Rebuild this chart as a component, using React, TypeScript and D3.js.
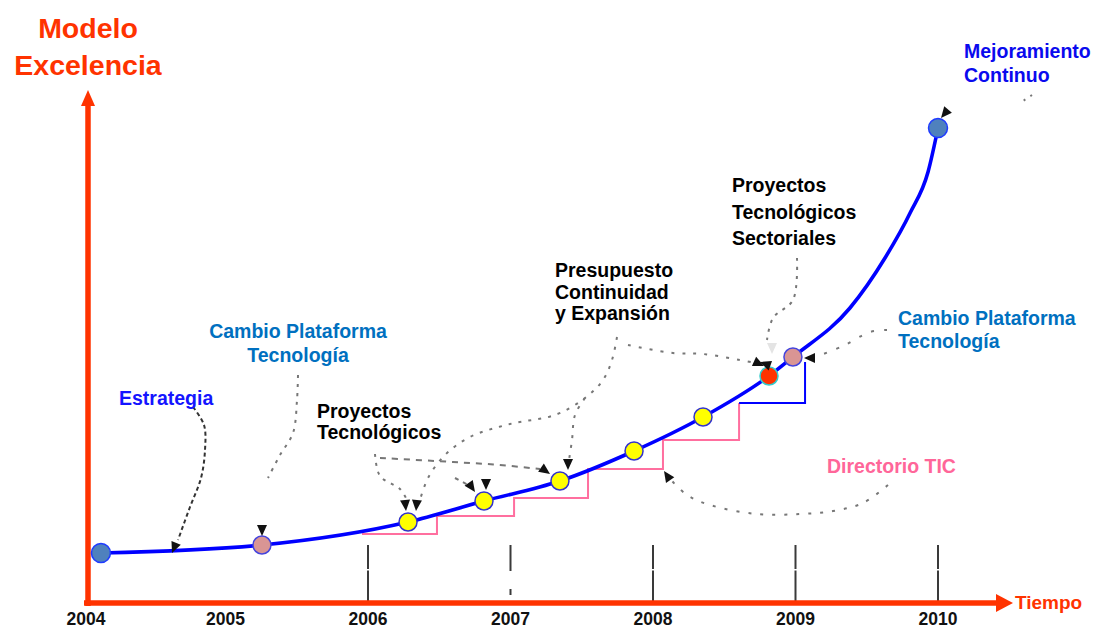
import * as d3 from "d3";

// años del eje de tiempo
const years = [2004, 2005, 2006, 2007, 2008, 2009, 2010];
const tickYears = [2006, 2007, 2008, 2009, 2010];

// trayectoria del modelo (año, nivel de excelencia)
const curveYears = [2004.126, 2005.256, 2006.281, 2006.814, 2007.347, 2007.867, 2008.351, 2008.814, 2008.982, 2009.382, 2009.628, 2009.804, 2009.93, 2010.0];
const curveLevels = [10.0, 11.6, 16.2, 20.4, 24.4, 30.4, 37.2, 45.4, 49.2, 59.0, 69.0, 78.0, 86.2, 95.0];

// hitos sobre la curva
const hitoYears = [2004.126, 2005.256, 2006.281, 2006.814, 2007.347, 2007.867, 2008.351, 2008.814, 2008.982, 2010.0];
const hitoLevels = [10.0, 11.6, 16.2, 20.4, 24.4, 30.4, 37.2, 45.4, 49.2, 95.0];
const hitoTypes = ["inicio", "cambio", "proyecto", "proyecto", "proyecto", "proyecto", "proyecto", "sector", "cambio", "inicio"];

// escalera del Directorio TIC
const stepYears = [2005.958, 2006.484, 2007.025, 2007.544, 2008.07, 2008.604];
const stepLevels = [13.8, 17.4, 21.0, 26.8, 32.6, 40.0];
const lastStepYears = [2008.604, 2009.067];
const lastStepLevels = [40.0, 48.2];

const fills: Record<string, string> = {
    inicio: "#4f81bd",
    cambio: "#d99594",
    proyecto: "#ffff00",
    sector: "#ff3300",
};
const strokes: Record<string, string> = {
    inicio: "#1f3bff",
    cambio: "#4444dd",
    proyecto: "#3333cc",
    sector: "#33cccc",
};

const FONT = "'Liberation Sans', Arial, Helvetica, sans-serif";
const RED = "#ff3300";

function arrowHead(tx: number, ty: number, angleDeg: number, len = 11, half = 5) {
    const a = (angleDeg * Math.PI) / 180;
    const bx = tx - len * Math.cos(a), by = ty - len * Math.sin(a);
    const px = -Math.sin(a) * half, py = Math.cos(a) * half;
    return `${tx},${ty} ${bx + px},${by + py} ${bx - px},${by - py}`;
}

// líneas guía de las anotaciones (px)
const guides: { pts: [number, number][]; color: string; dash: string; w: number }[] = [
    { pts: [[193, 407], [204, 425], [205, 450], [201, 478], [190, 507], [178, 540]], color: "#333", dash: "4 3", w: 2 },
    { pts: [[298, 375], [297, 400], [293, 433], [280, 455], [268, 478]], color: "#777", dash: "3 6", w: 2 },
    { pts: [[375, 454], [380, 476], [400, 489], [407, 500]], color: "#777", dash: "3 6", w: 2 },
    { pts: [[380, 458], [453, 462], [500, 465], [540, 469]], color: "#777", dash: "6 6", w: 2 },
    { pts: [[455, 478], [470, 486]], color: "#777", dash: "4 5", w: 2 },
    { pts: [[617, 337], [612, 360], [603, 380], [585, 398], [555, 415], [510, 424], [470, 437], [445, 455], [428, 478], [420, 500]], color: "#777", dash: "3 7", w: 2 },
    { pts: [[585, 398], [575, 415], [572, 440], [569, 460]], color: "#777", dash: "3 7", w: 2 },
    { pts: [[628, 345], [673, 353], [703, 354], [740, 360], [755, 363]], color: "#777", dash: "3 8", w: 2 },
    { pts: [[797, 258], [793, 300], [773, 318], [767, 340]], color: "#777", dash: "3 6", w: 2 },
    { pts: [[887, 330], [870, 332], [843, 346], [818, 356]], color: "#777", dash: "3 10", w: 2 },
    { pts: [[888, 485], [863, 503], [833, 511], [800, 514], [757, 514], [710, 505], [687, 495], [672, 481]], color: "#777", dash: "3 9", w: 2 },
    { pts: [[1032, 95], [1020, 103]], color: "#777", dash: "2 6", w: 2 },
];

const arrows: { x: number; y: number; a: number; c?: string }[] = [
    { x: 172, y: 553, a: 112 },
    { x: 262, y: 536, a: 90 },
    { x: 406, y: 511, a: 85 },
    { x: 416, y: 511, a: 95 },
    { x: 475, y: 492, a: 55 },
    { x: 486, y: 490, a: 90 },
    { x: 550, y: 474, a: 35 },
    { x: 568, y: 470, a: 90 },
    { x: 764, y: 366, a: 25 },
    { x: 760, y: 362, a: 200 },
    { x: 772, y: 354, a: 90, c: "#e4e4e4" },
    { x: 804, y: 358, a: 180 },
    { x: 664, y: 471, a: -124 },
    { x: 941, y: 118, a: 130 },
];

type Label = { lines: string[]; x: number; y: number; dy: number; color: string; anchor?: string };
const labels: Label[] = [
    { lines: ["Estrategia"], x: 119, y: 405, dy: 0, color: "#1414ff" },
    { lines: ["Cambio Plataforma", "Tecnología"], x: 298, y: 338, dy: 24, color: "#0070c0", anchor: "middle" },
    { lines: ["Proyectos", "Tecnológicos"], x: 317, y: 418, dy: 21, color: "#000" },
    { lines: ["Presupuesto", "Continuidad", "y Expansión"], x: 555, y: 277, dy: 21.5, color: "#000" },
    { lines: ["Proyectos", "Tecnológicos", "Sectoriales"], x: 732, y: 192, dy: 26.5, color: "#000" },
    { lines: ["Cambio Plataforma", "Tecnología"], x: 898, y: 325, dy: 23, color: "#0070c0" },
    { lines: ["Directorio TIC"], x: 827, y: 473, dy: 0, color: "#ff6699" },
    { lines: ["Mejoramiento", "Continuo"], x: 964, y: 58, dy: 24, color: "#0a0aee" },
];

export default function App() {
    const width = 1094;
    const height = 629;

    const x = d3.scaleLinear().domain([2004, 2010]).range([83, 938]);
    const y = d3.scaleLinear().domain([0, 100]).range([603, 103]);

    const curvePts = curveYears.map((yr, i) => [x(yr), y(curveLevels[i])] as [number, number]);
    const curvePath = d3.line().curve(d3.curveMonotoneX)(curvePts) ?? "";

    const stepLine = d3.line<[number, number]>().curve(d3.curveStepAfter);
    const pinkPath = stepLine(stepYears.map((yr, i) => [x(yr), y(stepLevels[i])])) ?? "";
    const bluePath = stepLine(lastStepYears.map((yr, i) => [x(yr), y(lastStepLevels[i])])) ?? "";

    const guideLine = d3.line().curve(d3.curveCatmullRom);

    const axisX = 88;
    const axisY = y(0);

    return (
        <svg width={width} height={height} style={{ position: "absolute", left: 0, top: 0, background: "#fff" }} fontFamily={FONT}>
            <rect width={width} height={height} fill="#fff" />

            {/* título eje vertical */}
            <text x={88} y={38} textAnchor="middle" fill={RED} fontSize={28.5} fontWeight="bold">Modelo</text>
            <text x={88} y={75} textAnchor="middle" fill={RED} fontSize={28.5} fontWeight="bold">Excelencia</text>

            {/* marcas verticales de años */}
            {tickYears.map((yr) => (
                <line key={yr} x1={x(yr)} x2={x(yr)} y1={y(11.6)} y2={axisY} stroke="#3a3a3a" strokeWidth={2}
                    strokeDasharray={yr === 2007 ? "26 18 6 40" : "24 1.5 40"} />
            ))}

            {/* ejes */}
            <line x1={axisX} x2={axisX} y1={axisY + 3} y2={104} stroke={RED} strokeWidth={5.5} />
            <polygon points={`${axisX},90 ${axisX - 7},106 ${axisX + 7},106`} fill={RED} />
            <line x1={84} x2={998} y1={axisY} y2={axisY} stroke={RED} strokeWidth={5.5} />
            <polygon points={`1013,${axisY} 996,${axisY - 9} 996,${axisY + 9}`} fill={RED} />
            <text x={1015} y={609} fill={RED} fontSize={19} fontWeight="bold">Tiempo</text>

            {years.map((yr) => (
                <text key={yr} x={x(yr) + (yr === 2004 ? 3 : 0)} y={625} textAnchor="middle" fontSize={17.5} fontWeight="bold" fill="#111">{yr}</text>
            ))}

            {/* líneas guía */}
            {guides.map((g, i) => (
                <path key={i} d={guideLine(g.pts) ?? ""} fill="none" stroke={g.color} strokeWidth={g.w} strokeDasharray={g.dash} />
            ))}

            {/* escalera */}
            <path d={pinkPath} fill="none" stroke="#ff6f9f" strokeWidth={2} />
            <path d={bluePath} fill="none" stroke="#0000ff" strokeWidth={2} />

            {/* curva */}
            <path d={curvePath} fill="none" stroke="#0000ff" strokeWidth={3.6} strokeLinecap="round" />

            {hitoYears.map((yr, i) => (
                <circle key={i} cx={x(yr)} cy={y(hitoLevels[i])} r={hitoTypes[i] === "inicio" ? 9.5 : 9}
                    fill={fills[hitoTypes[i]]} stroke={strokes[hitoTypes[i]]} strokeWidth={1.5} />
            ))}

            {arrows.map((a, i) => (
                <polygon key={i} points={arrowHead(a.x, a.y, a.a)} fill={a.c ?? "#111"} />
            ))}

            {labels.map((l, i) => (
                <text key={i} x={l.x} y={l.y} fill={l.color} fontSize={19.5} fontWeight="bold" textAnchor={l.anchor ?? "start"}>
                    {l.lines.map((t, j) => (
                        <tspan key={j} x={l.x} dy={j === 0 ? 0 : l.dy}>{t}</tspan>
                    ))}
                </text>
            ))}
        </svg>
    );
}
